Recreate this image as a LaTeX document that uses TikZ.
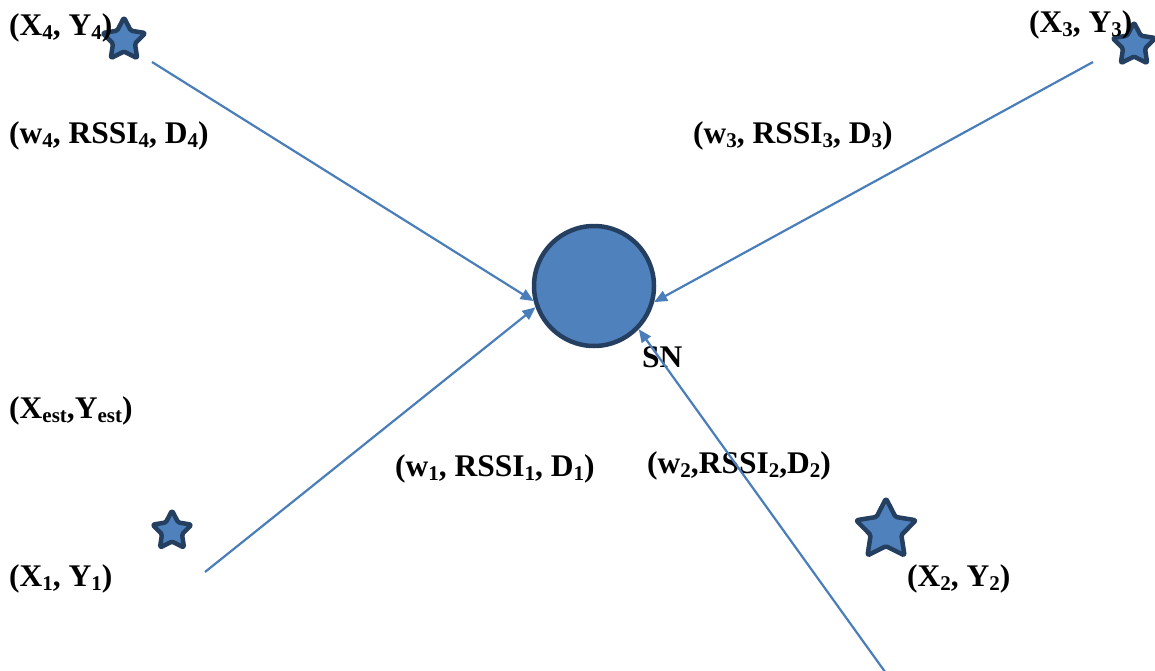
\documentclass[tikz,border=0pt]{standalone}
\usepackage{fontspec}
\setmainfont{Liberation Serif}
\usetikzlibrary{shapes.geometric,arrows.meta}

\definecolor{nodefill}{HTML}{4F81BD}
\definecolor{nodeline}{HTML}{243F60}
\definecolor{linkblue}{HTML}{4A7EBB}

% lowered index in the label font
\newcommand{\lowsub}[1]{\raisebox{-4pt}{\fontsize{21}{21}\selectfont #1}}

\begin{document}
\begin{tikzpicture}[x=1pt,y=-1pt,
	lbl/.style={anchor=west, inner sep=0pt, font=\fontsize{31.5}{33}\selectfont\bfseries},
	anchorstar/.style={star, star points=5, star point ratio=1.95, draw=nodeline, fill=nodefill, line width=4.5pt, line join=round, rounded corners=1.5pt, inner sep=0pt, minimum size=#1},
	link/.style={draw=linkblue, line width=2.2pt, -{Triangle[length=13pt,width=11pt]}}]
	\useasboundingbox (0,0) rectangle (1155,671);

	% sensor node
	\node at (594,286) [circle, draw=nodeline, fill=nodefill, line width=4.5pt, minimum size=120pt, inner sep=0pt] (sn) {};
	\node at (642,357) [lbl] (snl) {SN};

	% anchors
	\node at (124,40) [anchorstar=45pt] (s4) {};
	\node at (1134,45) [anchorstar=45pt] (s3) {};
	\node at (172,531) [anchorstar=41pt] (s1) {};
	\node at (886,530) [anchorstar=63pt] (s2) {};

	\node at (9,28) [lbl] (a4) {(X\lowsub{4}, Y\lowsub{4})};
	\node at (1029,25) [lbl] (a3) {(X\lowsub{3}, Y\lowsub{3})};
	\node at (9,579) [lbl] (a1) {(X\lowsub{1}, Y\lowsub{1})};
	\node at (907,579) [lbl] (a2) {(X\lowsub{2}, Y\lowsub{2})};
	\node at (9,411) [lbl] (est) {(X\lowsub{est},Y\lowsub{est})};

	% link labels
	\node at (9,136) [lbl] (w4) {(w\lowsub{4}, RSSI\lowsub{4}, D\lowsub{4})};
	\node at (693,136) [lbl] (w3) {(w\lowsub{3}, RSSI\lowsub{3}, D\lowsub{3})};
	\node at (395,469) [lbl] (w1) {(w\lowsub{1}, RSSI\lowsub{1}, D\lowsub{1})};
	\node at (647,466) [lbl] (w2) {(w\lowsub{2},RSSI\lowsub{2},D\lowsub{2})};

	% start of each link
	\coordinate (p4) at (152,62);
	\coordinate (p3) at (1093,62);
	\coordinate (p1) at (205,572);
	\coordinate (p2) at (888,676);

	\draw [link] (p4) -- (sn.194);
	\draw [link] (p1) -- (sn.200);
	\draw [link] (p3) -- (sn.345);
	\draw [link] (p2) -- (sn.316);
\end{tikzpicture}
\end{document}
